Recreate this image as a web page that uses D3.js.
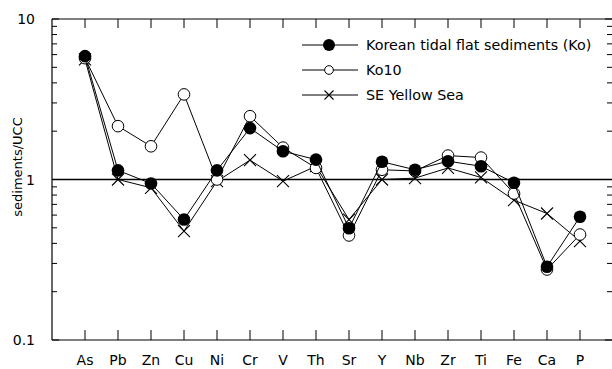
<!DOCTYPE html>
<html>
<head>
<meta charset="utf-8">
<script src="https://cdn.jsdelivr.net/npm/d3@7"></script>
<style>
  body { margin: 0; background: #fff; }
  text { font-family: "DejaVu Sans", Verdana, sans-serif; }
</style>
</head>
<body>
<svg id="chart" width="612" height="369"></svg>
<script>
// element order along the x axis
const elements = ["As", "Pb", "Zn", "Cu", "Ni", "Cr", "V", "Th", "Sr", "Y", "Nb", "Zr", "Ti", "Fe", "Ca", "P"];

// sediments / UCC ratios
const koValues   = [5.87, 1.14, 0.944, 0.563, 1.14, 2.09, 1.50, 1.33, 0.497, 1.29, 1.15, 1.30, 1.21, 0.954, 0.286, 0.586];
const ko10Values = [5.70, 2.15, 1.61, 3.39, 1.00, 2.48, 1.58, 1.18, 0.448, 1.15, 1.13, 1.41, 1.37, 0.818, 0.275, 0.454];
const seysValues = [5.60, 1.00, 0.888, 0.477, 0.976, 1.32, 0.976, 1.21, 0.563, 1.00, 1.02, 1.18, 1.03, 0.743, 0.614, 0.413];

const yMajor = [0.1, 1, 10];
const yTickLabels = ["0.1", "1", "10"];

const series = [
    { name: "Korean tidal flat sediments (Ko)", values: koValues, marker: "filled" },
    { name: "Ko10", values: ko10Values, marker: "open" },
    { name: "SE Yellow Sea", values: seysValues, marker: "cross" }
];

const svg = d3.select("#chart");
const plotLeft = 52, plotRight = 612, plotTop = 19, plotBottom = 340;

// positions 1..16, with a gap of one step before As and after P
const x = d3.scaleLinear().domain([0, 17]).range([plotLeft, 613]);
const y = d3.scaleLog().domain([0.1, 10]).range([plotBottom, plotTop]);

const minor = [];
for (let d = 0.1; d < 10; d *= 10) {
    for (let k = 2; k <= 9; k++) minor.push(+(d * k).toPrecision(2));
}

// frame: left, top, bottom lines (right side sits at the edge)
svg.append("line").attr("x1", plotLeft).attr("x2", plotLeft).attr("y1", plotTop).attr("y2", plotBottom)
    .attr("stroke", "#000").attr("stroke-width", 1.2);
svg.append("line").attr("x1", plotLeft).attr("x2", plotRight).attr("y1", plotTop).attr("y2", plotTop)
    .attr("stroke", "#000").attr("stroke-width", 1.2);
svg.append("line").attr("x1", plotLeft).attr("x2", plotRight).attr("y1", plotBottom).attr("y2", plotBottom)
    .attr("stroke", "#000").attr("stroke-width", 1.2);

// reference line at 1
svg.append("line").attr("x1", plotLeft).attr("x2", plotRight).attr("y1", y(1)).attr("y2", y(1))
    .attr("stroke", "#000").attr("stroke-width", 1.5);

// y axis ticks, inward on both sides
const ticks = svg.append("g").attr("stroke", "#000").attr("stroke-width", 1);
[{ v: yMajor, len: 7 }, { v: minor, len: 5 }].forEach(set => {
    set.v.forEach(v => {
        ticks.append("line").attr("x1", plotLeft).attr("x2", plotLeft + set.len)
            .attr("y1", y(v)).attr("y2", y(v));
        ticks.append("line").attr("x1", plotRight - set.len).attr("x2", plotRight)
            .attr("y1", y(v)).attr("y2", y(v));
    });
});

// x ticks top and bottom
elements.forEach((e, i) => {
    ticks.append("line").attr("x1", x(i + 1)).attr("x2", x(i + 1))
        .attr("y1", plotTop).attr("y2", plotTop + 9);
    ticks.append("line").attr("x1", x(i + 1)).attr("x2", x(i + 1))
        .attr("y1", plotBottom - 10).attr("y2", plotBottom);
});

// tick labels
svg.selectAll(".ylab").data(yMajor).enter().append("text")
    .attr("class", "ylab")
    .attr("x", 35).attr("y", d => y(d) + 5)
    .attr("text-anchor", "end")
    .style("font-size", "14px")
    .text((d, i) => yTickLabels[i]);

svg.selectAll(".xlab").data(elements).enter().append("text")
    .attr("class", "xlab")
    .attr("x", (d, i) => x(i + 1)).attr("y", 365)
    .attr("text-anchor", "middle")
    .style("font-size", "14px")
    .text(d => d);

svg.append("text")
    .attr("transform", "translate(22,167) rotate(-90)")
    .attr("text-anchor", "middle")
    .style("font-size", "13px")
    .text("sediments/UCC");

// markers
function drawMarker(g, type, cx, cy, scale = 1) {
    if (type === "filled") {
        g.append("circle").attr("cx", cx).attr("cy", cy).attr("r", 6.3 * scale).attr("fill", "#000");
    } else if (type === "open") {
        g.append("circle").attr("cx", cx).attr("cy", cy).attr("r", 5.8 * scale)
            .attr("fill", "#fff").attr("stroke", "#000").attr("stroke-width", 1);
    } else {
        const s = 6 * scale;
        g.append("path")
            .attr("d", `M${cx - s},${cy - s}L${cx + s},${cy + s}M${cx - s},${cy + s}L${cx + s},${cy - s}`)
            .attr("stroke", "#000").attr("stroke-width", 1.1).attr("fill", "none");
    }
}

const line = d3.line().x((d, i) => x(i + 1)).y(d => y(d));

// draw back to front: cross, open, filled
series.slice().reverse().forEach(s => {
    const g = svg.append("g");
    g.append("path").datum(s.values).attr("d", line)
        .attr("fill", "none").attr("stroke", "#000").attr("stroke-width", 1);
    s.values.forEach((v, i) => drawMarker(g, s.marker, x(i + 1), y(v)));
});

// legend
const legend = svg.append("g");
series.forEach((s, i) => {
    const ly = 45 + i * 25;
    legend.append("line").attr("x1", 302).attr("x2", 358).attr("y1", ly).attr("y2", ly)
        .attr("stroke", "#000").attr("stroke-width", 1);
    drawMarker(legend, s.marker, 329, ly, s.marker === "filled" ? 0.95 : 0.75);
    legend.append("text").attr("x", 366).attr("y", ly + 5)
        .style("font-size", "14.3px").text(s.name);
});
</script>
</body>
</html>
